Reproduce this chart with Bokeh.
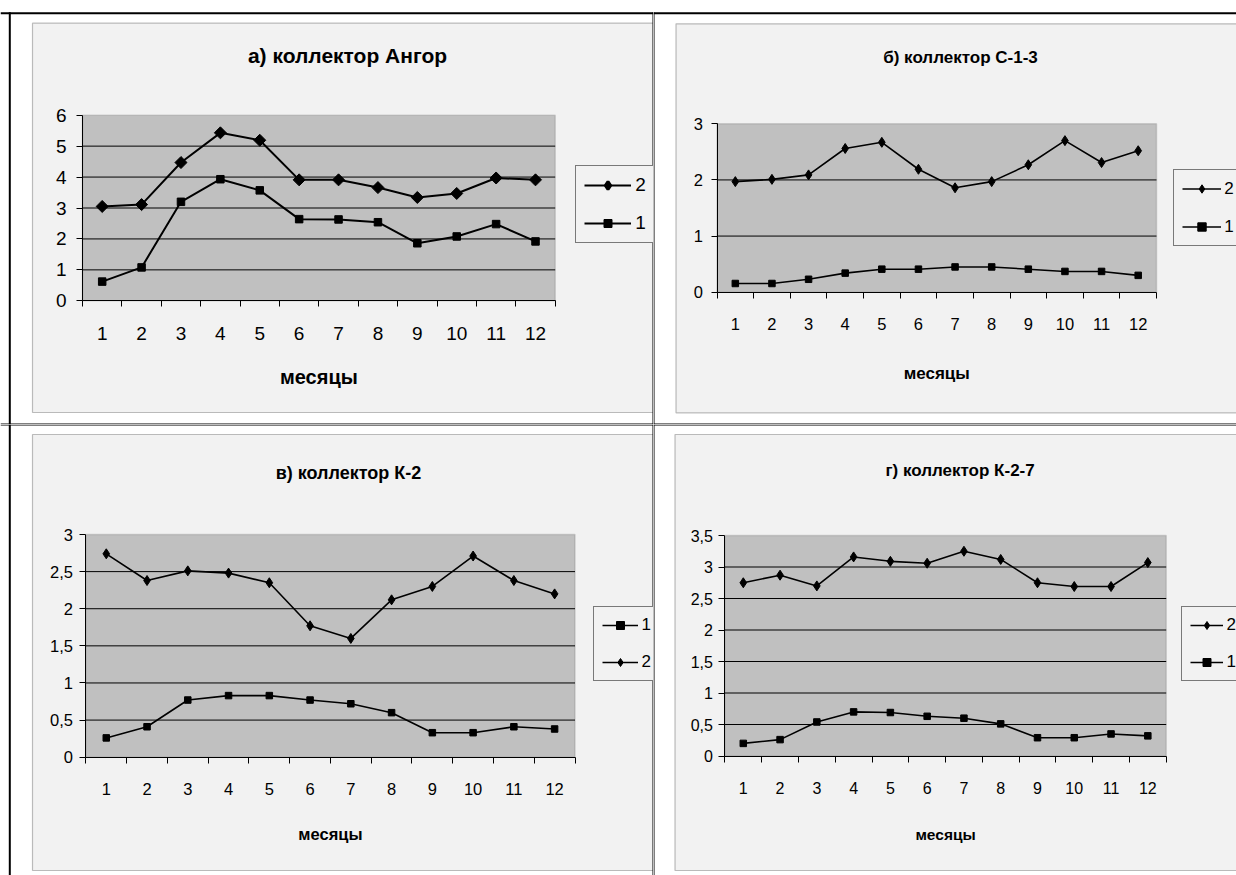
from bokeh.plotting import figure
from bokeh.layouts import column, row
from bokeh.models import (FixedTicker, BoxAnnotation, Label, Legend, LegendItem,
                          Range1d, LinearAxis, Grid, GlobalInlineStyleSheet)
from bokeh.embed import file_html
from bokeh.resources import INLINE

# ---------------- data ----------------
months = list(range(1, 13))
x_label = "месяцы"

angor_title = "а) коллектор Ангор"
angor_s2 = [3.05, 3.11, 4.47, 5.43, 5.19, 3.91, 3.91, 3.66, 3.34, 3.47, 3.97, 3.91]
angor_s1 = [0.62, 1.08, 3.20, 3.93, 3.57, 2.64, 2.63, 2.54, 1.86, 2.08, 2.48, 1.92]
angor_yticks = [0, 1, 2, 3, 4, 5, 6]

c13_title = "б) коллектор С-1-3"
c13_s2 = [1.97, 2.01, 2.09, 2.56, 2.67, 2.19, 1.86, 1.97, 2.27, 2.70, 2.31, 2.52]
c13_s1 = [0.155, 0.155, 0.23, 0.34, 0.41, 0.41, 0.45, 0.45, 0.41, 0.37, 0.37, 0.30]
c13_yticks = [0, 1, 2, 3]

k2_title = "в) коллектор К-2"
k2_s2 = [2.74, 2.38, 2.51, 2.48, 2.35, 1.77, 1.60, 2.12, 2.30, 2.71, 2.38, 2.20]
k2_s1 = [0.26, 0.41, 0.77, 0.83, 0.83, 0.77, 0.72, 0.60, 0.33, 0.33, 0.41, 0.38]
k2_yticks = [0, 0.5, 1, 1.5, 2, 2.5, 3]

k27_title = "г) коллектор К-2-7"
k27_s2 = [2.75, 2.87, 2.70, 3.16, 3.09, 3.06, 3.25, 3.12, 2.75, 2.69, 2.69, 3.07]
k27_s1 = [0.20, 0.26, 0.54, 0.70, 0.69, 0.63, 0.60, 0.51, 0.29, 0.29, 0.35, 0.32]
k27_yticks = [0, 0.5, 1, 1.5, 2, 2.5, 3, 3.5]

# ---------------- styling helpers ----------------
FONT = "Liberation Sans"
NAN = float("nan")


def cbox(l, r, t, b, fill=None, line=None, lw=1, level="overlay"):
    return BoxAnnotation(left=l, right=r, top=t, bottom=b,
                         left_units="canvas", right_units="canvas",
                         top_units="canvas", bottom_units="canvas",
                         fill_color=fill if fill else "white",
                         fill_alpha=1 if fill else 0,
                         line_color=line, line_width=lw, level=level)


def make_panel(title, s1, s2, yticks, order, g):
    ox, oy = g["origin"]                 # cell origin on the page
    W, H = g["size"]
    PL, PR, PT, PB = [v - o for v, o in zip(g["plot"], (ox, ox, oy, oy))]
    edges = [m - 0.5 for m in months] + [months[-1] + 0.5]
    x0, x1 = edges[0], edges[-1]
    y0, y1 = yticks[0], yticks[-1]
    kx = (PR - PL) / (x1 - x0)
    ky = (PB - PT) / (y1 - y0)
    xr = Range1d(x0 - PL / kx, x1 + (W - PR) / kx)
    yr = Range1d(y0 - (H - PB) / ky, y1 + PT / ky)

    p = figure(width=W, height=H, output_backend="svg", toolbar_location=None,
               x_range=xr, y_range=yr, x_axis_location=None, y_axis_location=None,
               min_border=0, min_border_left=0, min_border_right=0,
               min_border_top=0, min_border_bottom=0,
               background_fill_color="white", border_fill_color="white",
               outline_line_color=None)
    p.title.visible = False
    p.center = [r for r in p.center if not isinstance(r, Grid)]

    # chart area (light grey panel with dark border)
    fl, ft, fb = g["frame"]
    p.add_layout(cbox(fl - ox, W + 20, ft - oy, fb - oy, fill="#f2f2f2",
                      line="#2a2a2a", lw=1.2, level="image"))
    # plot area
    p.add_layout(BoxAnnotation(left=x0, right=x1, bottom=y0, top=y1,
                               fill_color="#c0c0c0", fill_alpha=1,
                               line_color="#808080", line_width=1.5, level="image"))
    # horizontal gridlines at the inner y ticks
    gt = yticks[1:-1]
    p.segment(x0=[x0] * len(gt), x1=[x1] * len(gt), y0=gt, y1=gt,
              line_color="black", line_width=1, level="underlay")

    xa = LinearAxis(fixed_location=y0, bounds=(x0, x1),
                    ticker=FixedTicker(ticks=months, minor_ticks=edges))
    xa.major_tick_out = 0
    xa.major_tick_in = 0
    xa.minor_tick_out = 6
    xa.minor_tick_in = 0
    xa.minor_tick_line_color = "black"
    xa.axis_line_color = "black"
    xa.major_label_text_font = FONT
    xa.major_label_text_font_size = g["tick_size"]
    xa.major_label_text_color = "black"
    xa.major_label_standoff = g["xstand"]
    p.add_layout(xa, "below")

    ya = LinearAxis(fixed_location=x0, bounds=(y0, y1),
                    ticker=FixedTicker(ticks=yticks, minor_ticks=[]))
    ya.major_label_overrides = {t: ("%g" % t).replace(".", ",") for t in yticks}
    ya.major_tick_out = 6
    ya.major_tick_in = 0
    ya.minor_tick_line_color = None
    ya.axis_line_color = "black"
    ya.major_label_text_font = FONT
    ya.major_label_text_font_size = g["tick_size"]
    ya.major_label_text_color = "black"
    ya.major_label_standoff = g["ystand"]
    p.add_layout(ya, "left")

    lw = g["lw"]
    l2 = p.line(months, s2, line_color="black", line_width=lw)
    m2 = p.scatter(months, s2, marker=g["dmark"], angle=g["dangle"], size=g["dsize"],
                   fill_color="black", line_color="black")
    l1 = p.line(months, s1, line_color="black", line_width=lw)
    m1 = p.scatter(months, s1, marker="square", size=g["ssize"],
                   fill_color="black", line_color="black")
    # legend-only diamond swatch (legend markers are drawn unrotated)
    d2 = p.scatter([NAN], [NAN], marker="diamond", fill_color="black",
                   line_color="black", line_width=g["leg_dlw"])
    rend = {"2": [l2, d2], "1": [l1, m1]}

    lg = g["legend"]
    lleft, ltop, lbottom = lg["box"]
    legend = Legend(items=[LegendItem(label=k, renderers=rend[k]) for k in order],
                    location=(lleft - ox, H - (lbottom - oy)), orientation="vertical",
                    border_line_color="black", border_line_width=1,
                    background_fill_color="#f2f2f2", background_fill_alpha=1,
                    label_text_font=FONT, label_text_font_size=g["leg_size"],
                    label_text_color="black",
                    glyph_width=lg["gw"], glyph_height=lg["gh"], label_height=lg["gh"],
                    label_standoff=lg["stand"], spacing=lg["spacing"],
                    padding=lg["pad"], margin=0)
    p.add_layout(legend)

    tx, ty = g["title_xy"]
    p.add_layout(Label(x=tx - ox, y=ty - oy, x_units="canvas", y_units="canvas", text=title,
                       text_align="center", text_baseline="alphabetic",
                       text_font=FONT, text_font_style="bold",
                       text_font_size=g["title_size"], text_color="black"))
    p.add_layout(Label(x=(x0 + x1) / 2, y=g["xl_y"] - oy, x_units="data", y_units="canvas",
                       text=x_label, text_align="center", text_baseline="alphabetic",
                       text_font=FONT, text_font_style="bold",
                       text_font_size=g["xl_size"], text_color="black"))

    # black table borders (page coordinates)
    for (l, r, t, b) in g["black"]:
        p.add_layout(cbox(l - ox, r - ox, t - oy, b - oy, fill="black"))
    return p


geo_a = dict(origin=(0, 0), size=(653, 424), plot=(82, 554.7, 114.7, 300.3),
             tick_size="19px", leg_size="19px", xstand=20, ystand=10,
             xl_size="20px", xl_y=376.7, title_size="21px", title_xy=(347, 55),
             lw=2, dmark="square", dangle=0.785398, dsize=8.5, ssize=7.5, leg_dlw=3,
             legend=dict(box=(575.3, 171.3, 243.3), gw=47, gh=20, stand=4, spacing=16, pad=8),
             frame=(32, 22.7, 412),
             black=[(8.3, 10.3, 11.7, 424), (0, 653, 11.7, 13.7),
                    (652, 653, 11.7, 424), (0, 653, 423, 424)])

geo_b = dict(origin=(653, 0), size=(583, 424), plot=(716.5, 1156, 123.3, 291.7),
             tick_size="16.5px", leg_size="17px", xstand=20, ystand=8,
             xl_size="17px", xl_y=373.3, title_size="17px", title_xy=(960, 57),
             lw=1.6, dmark="diamond", dangle=0, dsize=10, ssize=6.5, leg_dlw=1,
             legend=dict(box=(1173.3, 169, 246), gw=39, gh=21, stand=3, spacing=17, pad=8),
             frame=(675.5, 23.3, 412.3),
             black=[(653, 654, 11.7, 424), (653, 1236, 11.7, 13.7), (653, 1236, 423, 424)])

geo_c = dict(origin=(0, 424), size=(653, 451), plot=(85.4, 574.5, 534, 756.7),
             tick_size="16.5px", leg_size="17px", xstand=20, ystand=7,
             xl_size="16.5px", xl_y=833.3, title_size="18px", title_xy=(348, 472.7),
             lw=1.6, dmark="diamond", dangle=0, dsize=10, ssize=6.5, leg_dlw=1,
             legend=dict(box=(592.6, 607.7, 680.7), gw=36, gh=20, stand=4, spacing=17, pad=8),
             frame=(32, 434, 870),
             black=[(8.3, 10.3, 424, 875), (0, 653, 424, 425), (652, 653, 424, 875)])

geo_d = dict(origin=(653, 424), size=(583, 451), plot=(724.4, 1165.7, 535, 755.5),
             tick_size="16px", leg_size="17px", xstand=20, ystand=6,
             xl_size="15.5px", xl_y=834, title_size="17px", title_xy=(959.6, 470),
             lw=1.6, dmark="diamond", dangle=0, dsize=10, ssize=6.5, leg_dlw=1,
             legend=dict(box=(1180.6, 606.7, 680.7), gw=33, gh=20, stand=4, spacing=17, pad=8),
             frame=(674.5, 434, 870),
             black=[(653, 654, 424, 875), (653, 1236, 424, 425)])

pa = make_panel(angor_title, angor_s1, angor_s2, angor_yticks, ["2", "1"], geo_a)
pb = make_panel(c13_title, c13_s1, c13_s2, c13_yticks, ["2", "1"], geo_b)
pc = make_panel(k2_title, k2_s1, k2_s2, k2_yticks, ["1", "2"], geo_c)
pd = make_panel(k27_title, k27_s1, k27_s2, k27_yticks, ["2", "1"], geo_d)

layout = column(row(pa, pb, spacing=0), row(pc, pd, spacing=0), spacing=0,
                stylesheets=[GlobalInlineStyleSheet(css="html, body { overflow: hidden; }")])

open("out.html", "w").write(file_html(layout, INLINE))
